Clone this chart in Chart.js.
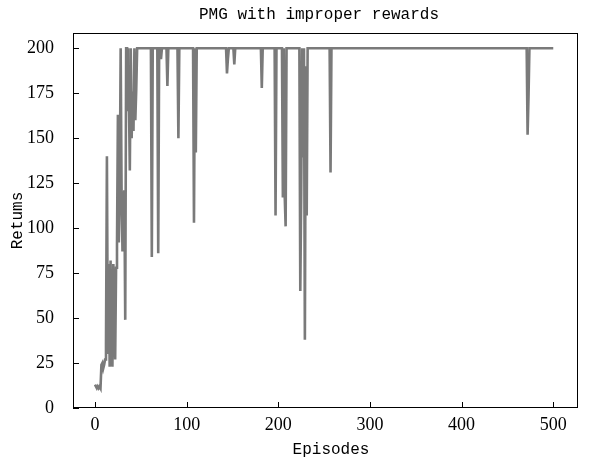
<!DOCTYPE html>
<html>
<head>
<meta charset="utf-8">
<script src="https://cdn.jsdelivr.net/npm/chart.js@4.4.1/dist/chart.umd.min.js"></script>
<style>
  html, body { margin: 0; padding: 0; background: #fff; }
  #wrap { width: 592px; height: 459px; }
</style>
</head>
<body>
<div id="wrap"><canvas id="c"></canvas></div>
<script>
// Episodios y retornos (tramos planos a 200 sólo con sus extremos)
const episodes = [
  0, 1, 2, 3, 4, 5, 6, 7, 8, 9, 10, 11, 12, 13, 14, 15, 16, 17, 18, 19,
  20, 21, 22, 23, 24, 25, 26, 27, 28, 29, 30, 31, 32, 33, 34, 35, 36, 37, 38, 39,
  40, 41, 42, 43, 44, 45, 46,
  61, 62, 63, 68, 69, 70, 71, 72, 73, 78, 79, 80, 90, 91, 92,
  107, 108, 109, 110, 111, 143, 144, 145, 146, 151, 152, 153,
  181, 182, 183, 196, 197, 198, 204, 205, 206, 207, 208, 209,
  223, 224, 225, 226, 227, 228, 229, 230, 231, 232,
  256, 257, 258, 471, 472, 473, 474, 500
];
const returns = [
  13, 12, 11, 12, 11, 12, 11, 24, 25, 22, 24, 27, 35, 140, 30, 80, 23, 82, 28, 23,
  80, 62, 27, 78, 90, 163, 92, 120, 200, 121, 87, 115, 121, 49, 200, 200, 165, 172, 132, 200,
  150, 176, 154, 200, 160, 177, 200,
  200, 84, 200, 200, 86, 200, 200, 194, 200, 200, 179, 200, 200, 150, 200,
  200, 103, 200, 142, 200, 200, 186, 194, 200, 200, 191, 200,
  200, 178, 200, 200, 107, 200, 200, 117, 200, 118, 101, 200,
  200, 65, 120, 200, 140, 200, 38, 190, 107, 200,
  200, 131, 200, 200, 152, 173, 200, 200
];
const xTicks = [0, 100, 200, 300, 400, 500];
const yTicks = [0, 25, 50, 75, 100, 125, 150, 175, 200];

const points = episodes.map((e, i) => ({ x: e, y: returns[i] }));

// Título, marco y marcas de eje hacia dentro
const framePlugin = {
  id: 'frame',
  afterDraw(chart) {
    const { ctx, chartArea: a, scales } = chart;
    ctx.save();
    ctx.strokeStyle = '#000';
    ctx.lineWidth = 1;
    ctx.strokeRect(a.left + 0.5, a.top + 0.5, a.right - a.left - 1, a.bottom - a.top - 1);
    ctx.beginPath();
    xTicks.forEach(v => {
      const px = Math.round(scales.x.getPixelForValue(v)) + 0.5;
      ctx.moveTo(px, a.bottom);
      ctx.lineTo(px, a.bottom - 6);
    });
    yTicks.forEach(v => {
      const py = Math.round(scales.y.getPixelForValue(v)) + 0.5;
      ctx.moveTo(a.left, py);
      ctx.lineTo(a.left + 6, py);
    });
    ctx.stroke();
    ctx.fillStyle = '#000';
    ctx.font = '16px "Liberation Mono", monospace';
    ctx.textAlign = 'center';
    ctx.textBaseline = 'middle';
    ctx.fillText('PMG with improper rewards', 319, 15);
    ctx.fillText('Episodes', 331, 450);
    ctx.restore();
  }
};

new Chart(document.getElementById('c'), {
  type: 'line',
  data: {
    datasets: [{
      data: points,
      borderColor: '#7a7a7a',
      borderWidth: 2.6,
      pointRadius: 0,
      tension: 0,
      fill: false
    }]
  },
  options: {
    responsive: true, maintainAspectRatio: false,
    animation: false,
    layout: { padding: { top: 33, right: 14, left: 0, bottom: 0 } },
    plugins: { legend: { display: false }, tooltip: { enabled: false } },
    scales: {
      x: {
        type: 'linear', min: -24, max: 527,
        afterBuildTicks: s => { s.ticks = xTicks.map(v => ({ value: v })); },
        afterFit: s => { s.height = 51; },
        grid: { display: false },
        border: { display: false },
        ticks: { color: '#000', padding: -2, maxRotation: 0, font: { family: '"Liberation Serif", serif', size: 18 } }
      },
      y: {
        type: 'linear', min: 0, max: 208.5,
        afterBuildTicks: s => { s.ticks = yTicks.map(v => ({ value: v })); },
        afterFit: s => { s.width = 73; },
        grid: { display: false },
        border: { display: false },
        ticks: { color: '#000', padding: 11, font: { family: '"Liberation Serif", serif', size: 18 } },
        title: { display: true, text: 'Retums', color: '#000', padding: { top: 8, bottom: 0 }, font: { family: '"Liberation Mono", monospace', size: 16 } }
      }
    }
  },
  plugins: [framePlugin]
});
</script>
</body>
</html>
